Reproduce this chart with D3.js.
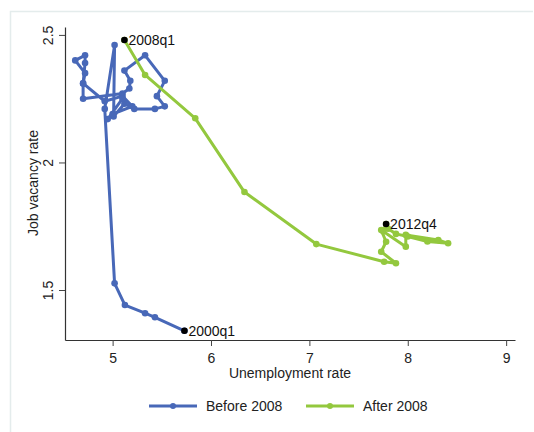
<!DOCTYPE html>
<html><head><meta charset="utf-8">
<script src="https://cdn.jsdelivr.net/npm/d3@7"></script>
<style>body{margin:0;background:#fff}svg{display:block}text{font-family:"Liberation Sans",Arial,sans-serif}</style>
</head><body><svg id="c" width="534" height="432"></svg>
<script>
const beforeU = [5.73,5.43,5.33,5.125,5.02,4.92,5.02,5.01,5.12,5.22,5.43,5.53,5.45,5.53,5.33,5.12,5.18,5.17,5.10,4.70,4.70,4.72,4.72,4.62,4.72,4.70,4.92,5.10,5.20,5.0,4.95,5.10];
const beforeV = [1.34,1.393,1.409,1.441,1.526,2.21,2.46,2.18,2.23,2.21,2.21,2.22,2.26,2.32,2.42,2.36,2.32,2.29,2.27,2.25,2.31,2.39,2.42,2.40,2.35,2.31,2.24,2.26,2.22,2.19,2.17,2.25];
const afterU = [5.12,5.33,5.84,6.34,7.07,7.76,7.88,7.73,7.78,7.73,7.98,7.98,8.31,8.41,8.20,8.00,7.88,7.80,7.75,7.78];
const afterV = [2.48,2.343,2.173,1.884,1.68,1.611,1.605,1.65,1.689,1.735,1.67,1.716,1.696,1.683,1.69,1.71,1.72,1.74,1.73,1.759];
const xTicks = [5,6,7,8,9];
const yTicks = [1.5,2,2.5];
const labels = [{t:"2000q1",s:"before",i:0},{t:"2008q1",s:"after",i:0},{t:"2012q4",s:"after",i:19}];

const svg = d3.select("#c");
const blue = "#4868b8", green = "#93c83e";
const FONT = "Liberation Sans, Arial, sans-serif";
// faint frame
svg.append("path").attr("d","M10.5,432 V11.5 H533").attr("fill","none").attr("stroke","#e4ecec").attr("stroke-width",1.5);

const x = d3.scaleLinear().domain([4.516,9.09]).range([65,515]);
const y = d3.scaleLinear().domain([1.304,2.531]).range([340,27]);

const gx = svg.append("g").attr("transform","translate(0,340)")
  .call(d3.axisBottom(x).tickValues(xTicks).tickFormat(d3.format("d")).tickSize(6).tickSizeOuter(0));
const gy = svg.append("g").attr("transform","translate(65,0)")
  .call(d3.axisLeft(y).tickValues(yTicks).tickFormat(d=>String(d)).tickSize(6).tickSizeOuter(0));
[gx,gy].forEach(g=>{g.select(".domain").attr("stroke","#333").attr("stroke-width",1.2);
  g.selectAll(".tick line").attr("stroke","#444");
  g.selectAll("text").attr("font-size",14).attr("fill","#222").attr("font-family",FONT);});
gx.selectAll("text").attr("y",10).attr("dy","0.95em");
gy.selectAll(".tick text").attr("x",0).attr("dy",0).attr("text-anchor","middle")
  .attr("transform","translate(-12,0) rotate(-90)");

svg.append("text").attr("x",290).attr("y",378).attr("text-anchor","middle").attr("font-size",14).attr("fill","#222").text("Unemployment rate");
svg.append("text").attr("transform","translate(38,183) rotate(-90)").attr("text-anchor","middle").attr("font-size",14).attr("fill","#222").text("Job vacancy rate");

const line = d3.line().x(d=>x(d[0])).y(d=>y(d[1]));
const series = [
  {k:"before",c:blue,d:d3.zip(beforeU,beforeV)},
  {k:"after",c:green,d:d3.zip(afterU,afterV)}
];
series.forEach(s=>{
  svg.append("path").attr("d",line(s.d)).attr("fill","none").attr("stroke",s.c).attr("stroke-width",3).attr("stroke-linejoin","round");
  svg.append("g").selectAll("circle").data(s.d).join("circle").attr("cx",d=>x(d[0])).attr("cy",d=>y(d[1])).attr("r",3.3).attr("fill",s.c);
});
labels.forEach(l=>{
  const s = series.find(q=>q.k===l.s).d[l.i];
  svg.append("circle").attr("cx",x(s[0])).attr("cy",y(s[1])).attr("r",3.3).attr("fill","#000");
  svg.append("text").attr("x",x(s[0])+4).attr("y",y(s[1])+5).attr("font-size",14).attr("fill","#111").text(l.t);
});

// legend
const leg = [{t:"Before 2008",c:blue,x:149},{t:"After 2008",c:green,x:306}];
leg.forEach(l=>{
  const g = svg.append("g").attr("transform",`translate(${l.x},406)`);
  g.append("line").attr("x1",0).attr("x2",48).attr("stroke",l.c).attr("stroke-width",3);
  g.append("circle").attr("cx",24).attr("r",3).attr("fill",l.c);
  g.append("text").attr("x",57).attr("y",5).attr("font-size",14).attr("fill","#222").text(l.t);
});
</script></body></html>
